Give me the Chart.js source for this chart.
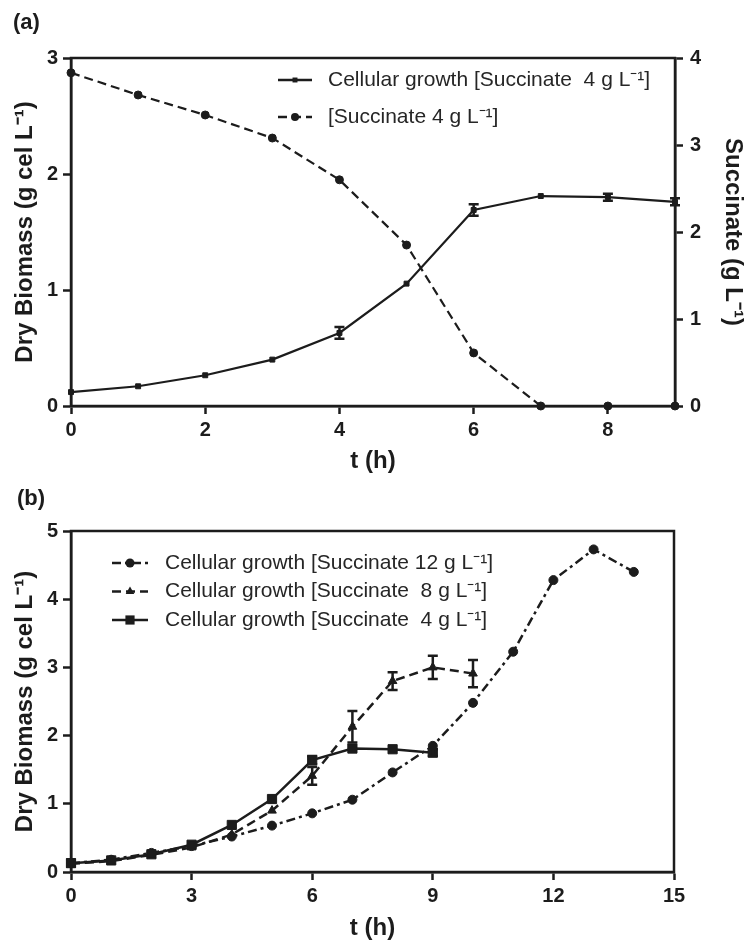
<!DOCTYPE html>
<html>
<head>
<meta charset="utf-8">
<title>Cellular growth and succinate consumption</title>
<script src="https://cdn.jsdelivr.net/npm/chart.js@4.4.0/dist/chart.umd.min.js"></script>
<style>
  body { margin: 0; background: #fff; }
  .panel { position: absolute; left: 0; }
  #chart-a { top: 0; }
  #chart-b { top: 480px; }
</style>
</head>
<body>
<canvas id="chart-a" class="panel" width="749" height="480"></canvas>
<canvas id="chart-b" class="panel" width="749" height="461"></canvas>
<script>
// panel (a): 4 g/L succinate run
const hoursA = [0, 1, 2, 3, 4, 5, 6, 7, 8, 9];
const biomassA = [0.12, 0.17, 0.265, 0.40, 0.63, 1.055, 1.69, 1.81, 1.80, 1.76];
const biomassErrA = [0, 0, 0, 0, 0.05, 0, 0.05, 0, 0.03, 0.03];
const succinateA = [3.83, 3.575, 3.345, 3.08, 2.60, 1.85, 0.61, 0, 0, 0];
const xTicksA = [0, 2, 4, 6, 8];
const yTicksA = [0, 1, 2, 3];
const succTicksA = [0, 1, 2, 3, 4];

// panel (b): three succinate concentrations
const hours12 = [0, 1, 2, 3, 4, 5, 6, 7, 8, 9, 10, 11, 12, 13, 14];
const growth12 = [0.13, 0.18, 0.28, 0.38, 0.52, 0.68, 0.86, 1.06, 1.46, 1.85, 2.48, 3.23, 4.28, 4.73, 4.40];
const hours8 = [0, 1, 2, 3, 4, 5, 6, 7, 8, 9, 10];
const growth8 = [0.12, 0.16, 0.25, 0.36, 0.55, 0.90, 1.41, 2.13, 2.80, 3.00, 2.91];
const err8 = [0, 0, 0, 0, 0, 0, 0.13, 0.23, 0.13, 0.17, 0.2];
const hours4 = [0, 1, 2, 3, 4, 5, 6, 7, 8, 9];
const growth4 = [0.13, 0.17, 0.26, 0.40, 0.69, 1.07, 1.64, 1.81, 1.80, 1.75];
const err4 = [0.05, 0, 0, 0, 0, 0, 0.06, 0, 0, 0.05];
const xTicksB = [0, 3, 6, 9, 12, 15];
const yTicksB = [0, 1, 2, 3, 4, 5];

const ink = "#1c1c1c";
const family = "'Liberation Sans', Arial, Helvetica, sans-serif";
Chart.defaults.font.family = family;
Chart.defaults.color = ink;

function pairs(xs, ys) {
  return xs.map((x, i) => ({ x: x, y: ys[i] }));
}

function drawMarker(ctx, style, r, x, y) {
  ctx.beginPath();
  if (style === "rect") {
    const s = r * Math.SQRT1_2;
    ctx.rect(x - s, y - s, 2 * s, 2 * s);
  } else if (style === "triangle") {
    for (let k = 0; k < 3; k++) {
      const ang = -Math.PI / 2 + k * 2 * Math.PI / 3;
      const px = x + Math.cos(ang) * r, py = y + Math.sin(ang) * r;
      if (k === 0) ctx.moveTo(px, py); else ctx.lineTo(px, py);
    }
    ctx.closePath();
  } else {
    ctx.arc(x, y, r, 0, Math.PI * 2);
  }
  ctx.fill();
}

const frame = {
  id: "frame",
  beforeDatasetsDraw(chart) {
    const { ctx, chartArea: a } = chart;
    ctx.save();
    ctx.strokeStyle = ink;
    ctx.lineWidth = 2.5;
    ctx.strokeRect(a.left, a.top, a.right - a.left, a.bottom - a.top);
    ctx.restore();
  }
};

const errorBars = {
  id: "errorBars",
  afterDatasetsDraw(chart) {
    const ctx = chart.ctx;
    chart.data.datasets.forEach((ds, i) => {
      if (!ds.errors) return;
      const meta = chart.getDatasetMeta(i);
      const yScale = chart.scales[meta.yAxisID];
      ctx.save();
      ctx.strokeStyle = ink;
      ctx.lineWidth = 2.5;
      meta.data.forEach((pt, j) => {
        const err = ds.errors[j];
        if (!err) return;
        const v = ds.data[j].y;
        const top = yScale.getPixelForValue(v + err);
        const bottom = yScale.getPixelForValue(v - err);
        ctx.beginPath();
        ctx.moveTo(pt.x, top);
        ctx.lineTo(pt.x, bottom);
        ctx.moveTo(pt.x - 5, top);
        ctx.lineTo(pt.x + 5, top);
        ctx.moveTo(pt.x - 5, bottom);
        ctx.lineTo(pt.x + 5, bottom);
        ctx.stroke();
      });
      ctx.restore();
    });
  }
};

// legend with a line sample, marker and label per dataset
const lineLegend = {
  id: "lineLegend",
  afterDraw(chart, args, opts) {
    const ctx = chart.ctx;
    ctx.save();
    ctx.font = "21px " + family;
    ctx.textBaseline = "middle";
    opts.order.forEach((idx, row) => {
      const ds = chart.data.datasets[idx];
      const y = opts.y + row * opts.rowGap;
      ctx.strokeStyle = ink;
      ctx.fillStyle = ink;
      ctx.lineWidth = 2.5;
      ctx.setLineDash(ds.borderDash || []);
      ctx.beginPath();
      ctx.moveTo(opts.x, y);
      ctx.lineTo(opts.x + opts.sample, y);
      ctx.stroke();
      ctx.setLineDash([]);
      drawMarker(ctx, ds.pointStyle, ds.pointRadius, opts.x + opts.sample / 2, y);
      ctx.fillStyle = "#262626";
      ctx.fillText(ds.label, opts.x + opts.sample + opts.gap, y);
    });
    ctx.restore();
  }
};

function axis(opts) {
  return Object.assign({
    type: "linear",
    border: { display: true, width: 2.5, color: ink },
    grid: { drawOnChartArea: false, tickLength: 8, tickWidth: 2.5, tickColor: ink },
    ticks: { autoSkip: false, color: ink, font: { size: 20, weight: "bold" } }
  }, opts);
}

function fixedTicks(list) {
  return (s) => { s.ticks = list.map(v => ({ value: v })); };
}

const axisTitleFont = { size: 24, weight: "bold", lineHeight: 1 };

new Chart(document.getElementById("chart-a"), {
  type: "line",
  data: {
    datasets: [
      {
        label: "Cellular growth [Succinate  4 g L\u207B\u00B9]",
        data: pairs(hoursA, biomassA),
        errors: biomassErrA,
        yAxisID: "y",
        borderColor: ink,
        backgroundColor: ink,
        borderWidth: 2.2,
        pointStyle: "rect",
        pointRadius: 3.5,
        pointBorderWidth: 1,
        tension: 0,
        clip: false
      },
      {
        label: "[Succinate 4 g L\u207B\u00B9]",
        data: pairs(hoursA, succinateA),
        yAxisID: "y2",
        borderColor: ink,
        backgroundColor: ink,
        borderWidth: 2.2,
        borderDash: [9, 5],
        pointStyle: "circle",
        pointRadius: 4,
        pointBorderWidth: 1,
        tension: 0,
        clip: false
      }
    ]
  },
  options: {
    responsive: false,
    animation: false,
    layout: { padding: { left: 13, right: 0, top: 0, bottom: 0 } },
    plugins: {
      legend: { display: false },
      tooltip: { enabled: false },
      title: {
        display: true, text: "(a)", align: "start", color: ink,
        font: { size: 22, weight: "bold" },
        padding: { top: 10, bottom: 21.6 }
      },
      lineLegend: { x: 278, y: 80, rowGap: 37, sample: 34, gap: 16, order: [0, 1] }
    },
    scales: {
      x: axis({
        min: 0, max: 9,
        afterBuildTicks: fixedTicks(xTicksA),
        afterFit: (s) => { s.height = 74; },
        ticks: { autoSkip: false, color: ink, padding: 4, font: { size: 20, weight: "bold" } },
        title: { display: true, text: "t (h)", color: ink, font: axisTitleFont, padding: { top: 0, bottom: 7 } }
      }),
      y: axis({
        position: "left", min: 0, max: 3,
        afterBuildTicks: fixedTicks(yTicksA),
        afterFit: (s) => { s.width = 58; },
        ticks: { autoSkip: false, color: ink, padding: 5, font: { size: 20, weight: "bold" } },
        title: { display: true, text: "Dry Biomass (g cel L\u207B\u00B9)", color: ink, font: axisTitleFont, padding: { top: 0, bottom: 0 } }
      }),
      y2: axis({
        position: "right", min: 0, max: 4,
        afterBuildTicks: fixedTicks(succTicksA),
        afterFit: (s) => { s.width = 74; },
        ticks: { autoSkip: false, color: ink, padding: 7, font: { size: 20, weight: "bold" } },
        title: { display: true, text: "Succinate (g L\u207B\u00B9)", color: ink, font: axisTitleFont, padding: { top: 4, bottom: 0 } }
      })
    }
  },
  plugins: [frame, errorBars, lineLegend]
});

new Chart(document.getElementById("chart-b"), {
  type: "line",
  data: {
    datasets: [
      {
        label: "Cellular growth [Succinate 12 g L\u207B\u00B9]",
        data: pairs(hours12, growth12),
        borderColor: ink,
        backgroundColor: ink,
        borderWidth: 2.5,
        borderDash: [9, 4, 3, 4],
        pointStyle: "circle",
        pointRadius: 4.5,
        pointBorderWidth: 1,
        clip: false
      },
      {
        label: "Cellular growth [Succinate  8 g L\u207B\u00B9]",
        data: pairs(hours8, growth8),
        errors: err8,
        borderColor: ink,
        backgroundColor: ink,
        borderWidth: 2.5,
        borderDash: [9, 5],
        pointStyle: "triangle",
        pointRadius: 5,
        pointBorderWidth: 1,
        clip: false
      },
      {
        label: "Cellular growth [Succinate  4 g L\u207B\u00B9]",
        data: pairs(hours4, growth4),
        errors: err4,
        borderColor: ink,
        backgroundColor: ink,
        borderWidth: 2.5,
        pointStyle: "rect",
        pointRadius: 6.5,
        pointBorderWidth: 1,
        clip: false
      }
    ]
  },
  options: {
    responsive: false,
    animation: false,
    layout: { padding: { left: 17, right: 75, top: 0, bottom: 0 } },
    plugins: {
      legend: { display: false },
      tooltip: { enabled: false },
      title: {
        display: true, text: "(b)", align: "start", color: ink,
        font: { size: 22, weight: "bold" },
        padding: { top: 6, bottom: 18.6 }
      },
      lineLegend: { x: 112, y: 83, rowGap: 28.5, sample: 36, gap: 17, order: [0, 1, 2] }
    },
    scales: {
      x: axis({
        min: 0, max: 15,
        afterBuildTicks: fixedTicks(xTicksB),
        afterFit: (s) => { s.height = 69; },
        ticks: { autoSkip: false, color: ink, padding: 4, font: { size: 20, weight: "bold" } },
        title: { display: true, text: "t (h)", color: ink, font: axisTitleFont, padding: { top: 0, bottom: 1 } }
      }),
      y: axis({
        position: "left", min: 0, max: 5,
        afterBuildTicks: fixedTicks(yTicksB),
        afterFit: (s) => { s.width = 54; },
        ticks: { autoSkip: false, color: ink, padding: 5, font: { size: 20, weight: "bold" } },
        title: { display: true, text: "Dry Biomass (g cel L\u207B\u00B9)", color: ink, font: axisTitleFont, padding: { top: -4, bottom: 0 } }
      })
    }
  },
  plugins: [frame, errorBars, lineLegend]
});
</script>
</body>
</html>
